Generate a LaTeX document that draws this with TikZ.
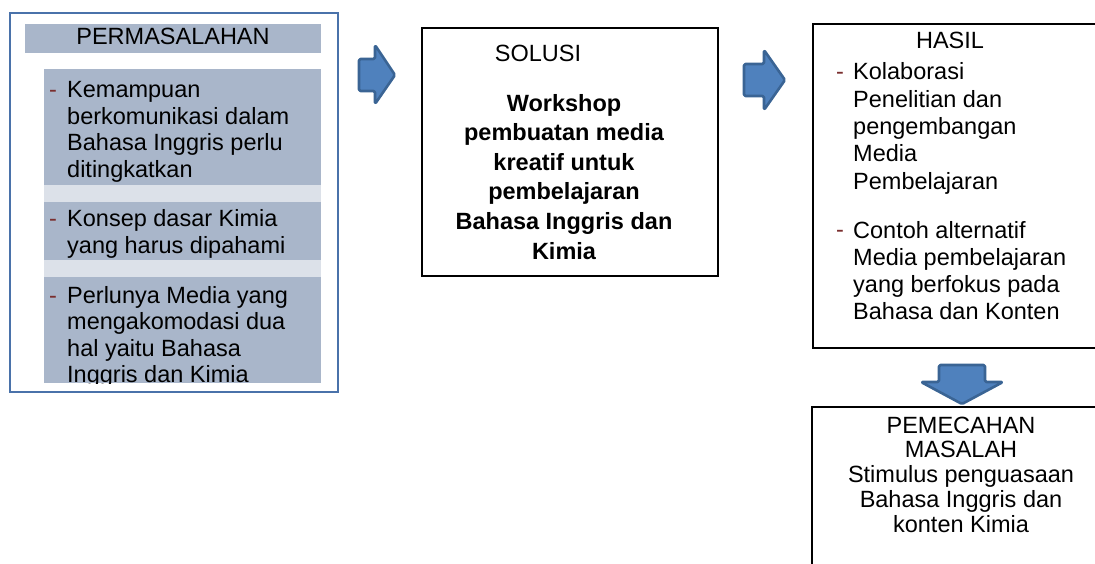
\documentclass[tikz,border=0pt]{standalone}
\usepackage{fontspec}
\setmainfont{Liberation Sans}
\definecolor{frameblue}{HTML}{4A72AA}
\definecolor{barfill}{HTML}{A9B6CA}
\definecolor{stripfill}{HTML}{DCE1E9}
\definecolor{dashred}{HTML}{7A2E2E}
\definecolor{arrowfill}{HTML}{4F81BD}
\definecolor{arrowline}{HTML}{3A6494}
\tikzset{
  boxframe/.style={draw=black, line width=2.2pt, inner sep=0pt, anchor=north west},
  leftframe/.style={draw=frameblue, line width=2.4pt, inner sep=0pt, anchor=north west},
  bar/.style={fill=barfill, draw=none, inner sep=0pt, anchor=north west},
  strip/.style={fill=stripfill, draw=none, inner sep=0pt, anchor=north west},
  txt/.style={inner sep=0pt, text=black},
  txtA/.style={txt, align=left, anchor=base west, font=\fontsize{23.5}{26.5}\selectfont},
  txtH/.style={txt, align=left, anchor=base west, font=\fontsize{23.5}{27.3}\selectfont},
  txtB/.style={txt, align=center, anchor=base, font=\fontsize{23.5}{29.6}\selectfont\bfseries},
  txtP/.style={txt, align=center, anchor=base, font=\fontsize{23.5}{24.75}\selectfont},
  title/.style={txt, anchor=base, font=\fontsize{23.5}{26}\selectfont},
  bullet/.style={inner sep=0pt, anchor=base west, text=dashred, font=\fontsize{23.5}{26}\selectfont},
  blockarrow/.style={fill=arrowfill, draw=arrowline, line width=2.6pt, line join=round, rounded corners=1.5pt}
}
\begin{document}
\begin{tikzpicture}[x=1pt,y=-1pt]
\useasboundingbox (0,0) rectangle (1095,564);
\clip (0,0) rectangle (1095,564);
\fill[white] (0,0) rectangle (1095,564);

% ---------- left box: PERMASALAHAN ----------
\node[leftframe, minimum width=328, minimum height=379] (prob) at (9,12) {};
\node[bar, minimum width=296, minimum height=29] (probbar) at (25,24) {};
\node[title] (probtitle) at (173,45) {PERMASALAHAN};

\node[bar, minimum width=277, minimum height=116] (item1) at (44,69) {};
\node[strip, minimum width=277, minimum height=17] (strip1) at (44,185) {};
\node[bar, minimum width=277, minimum height=58] (item2) at (44,202) {};
\node[strip, minimum width=277, minimum height=17] (strip2) at (44,260) {};
\node[bar, minimum width=277, minimum height=106] (item3) at (44,277) {};

% multi-line nodes: base anchor = baseline of the last line
\node[bullet] (d1) at (49,98) {-};
\node[txtA] (t1) at (67,177.5) {Kemampuan\\berkomunikasi dalam\\Bahasa Inggris perlu\\ditingkatkan};
\node[bullet] (d2) at (49,227) {-};
\node[txtA] (t2) at (67,253.5) {Konsep dasar Kimia\\yang harus dipahami};
\begin{scope}
\clip (44,277) rectangle (321,383);
\node[bullet] (d3) at (49,303) {-};
\node[txtA] (t3) at (67,382.5) {Perlunya Media yang\\mengakomodasi dua\\hal yaitu Bahasa\\Inggris dan Kimia};
\end{scope}

% ---------- arrow 1 ----------
\draw[blockarrow] (359,59) -- (375,59) -- (375,45) -- (395,75) -- (375,104) -- (375,91) -- (359,91) -- cycle;

% ---------- SOLUSI ----------
\node[boxframe, minimum width=296, minimum height=248] (sol) at (421,27) {};
\node[title] (soltitle) at (538,62) {SOLUSI};
\node[txtB] (soltext) at (564,259) {Workshop\\pembuatan media\\kreatif untuk\\pembelajaran\\Bahasa Inggris dan\\Kimia};

% ---------- arrow 2 ----------
\draw[blockarrow] (744,64) -- (764,64) -- (764,50) -- (785,80) -- (764,110) -- (764,96) -- (744,96) -- cycle;

% ---------- HASIL ----------
\node[boxframe, minimum width=283.5, minimum height=324] (has) at (812,23) {};
\node[title] (hastitle) at (950,49) {HASIL};
\node[bullet] (d4) at (836,80) {-};
\node[txtH] (t4) at (853,189.2) {Kolaborasi\\Penelitian dan\\pengembangan\\Media\\Pembelajaran};
\node[bullet] (d5) at (836,238) {-};
\node[txtH] (t5) at (853,319.9) {Contoh alternatif\\Media pembelajaran\\yang berfokus pada\\Bahasa dan Konten};

% ---------- down arrow ----------
\draw[blockarrow] (939,365) -- (985,365) -- (985,382) -- (1003,382) -- (962,404) -- (921,382) -- (939,382) -- cycle;

% ---------- PEMECAHAN MASALAH ----------
\node[boxframe, minimum width=300, minimum height=200] (pem) at (811,406) {};
\node[txtP] (pemtext) at (961,532) {PEMECAHAN\\MASALAH\\Stimulus penguasaan\\Bahasa Inggris dan\\konten Kimia};
\end{tikzpicture}
\end{document}
